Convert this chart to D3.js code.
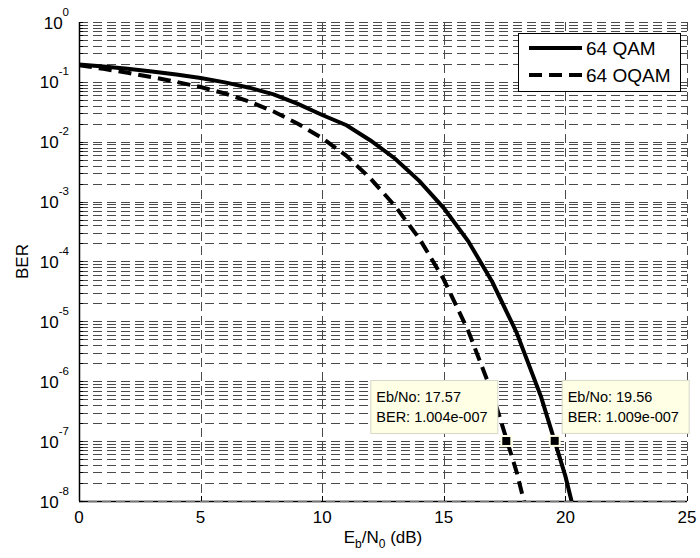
<!DOCTYPE html>
<html>
<head>
<meta charset="utf-8">
<script src="https://cdn.jsdelivr.net/npm/d3@7"></script>
<style>
  body { margin: 0; background: #fff; }
  svg text { font-family: Arial, "Liberation Sans", sans-serif; fill: #000; }
</style>
</head>
<body>
<svg id="chart" width="700" height="558"></svg>
<script>
  // Data
  var ebno = [0, 1, 2, 3, 4, 5, 6, 7, 8, 9, 10, 11, 12, 13, 14, 15, 16, 17, 18, 19, 20, 21]
  var berQam = [0.195, 0.180, 0.165, 0.149, 0.133, 0.116, 0.098, 0.080, 0.062, 0.043, 0.028, 0.0189,
    0.0104, 0.0052, 0.0022, 7.8e-4, 2.2e-4, 4.5e-5, 6.4e-6, 5.5e-7, 2.6e-8, 5.8e-10]
  var berOqam = [0.19, 0.165, 0.142, 0.12, 0.10, 0.082, 0.064, 0.047, 0.032, 0.020, 0.0115, 0.0058,
    0.0024, 8.4e-4, 2.4e-4, 5.0e-5, 7.0e-6, 6.2e-7, 3.0e-8, 7e-10]
  var seriesNames = ['64 QAM', '64 OQAM']
  var xTicks = [0, 5, 10, 15, 20, 25]
  var yExponents = [0, -1, -2, -3, -4, -5, -6, -7, -8]
  var tipX = [17.57, 19.56]
  var tipY = [1.004e-7, 1.009e-7]
  var tipLabels = [['Eb/No: 17.57', 'BER: 1.004e-007'], ['Eb/No: 19.56', 'BER: 1.009e-007']];

  (function () {
    var L = 79, R = 687, T = 22, B = 501
    var svg = d3.select('#chart')

    var x = d3.scaleLinear().domain([0, 25]).range([L, R])
    var y = d3.scaleLog().domain([1e-8, 1]).range([B, T])

    svg.append('defs').append('clipPath').attr('id', 'clip')
      .append('rect')
      .attr('x', L).attr('y', T)
      .attr('width', R - L).attr('height', B - T)

    // Grid
    var grid = svg.append('g').attr('class', 'grid')
    var minorVals = []
    for (var e = -8; e < 0; e++) {
      for (var m = 2; m <= 9; m++) minorVals.push(m * Math.pow(10, e))
    }
    var majorVals = yExponents.map(function (d) { return Math.pow(10, d) })
    var gridStyle = function (sel) {
      sel.attr('stroke', '#4a4a4a').attr('stroke-width', 1).attr('stroke-dasharray', '9,5')
    }
    grid.selectAll('line.h').data(minorVals.concat(majorVals)).enter().append('line')
      .attr('class', 'h')
      .attr('x1', L).attr('x2', R)
      .attr('y1', function (d) { return Math.round(y(d)) + 0.5 })
      .attr('y2', function (d) { return Math.round(y(d)) + 0.5 })
      .call(gridStyle)
    grid.selectAll('line.v').data(xTicks.slice(1)).enter().append('line')
      .attr('class', 'v')
      .attr('x1', function (d) { return Math.round(x(d)) + 0.5 })
      .attr('x2', function (d) { return Math.round(x(d)) + 0.5 })
      .attr('y1', T).attr('y2', B)
      .call(gridStyle)

    // Axis lines + inward ticks
    svg.append('line').attr('x1', L + 0.5).attr('x2', L + 0.5).attr('y1', T).attr('y2', B)
      .attr('stroke', '#000').attr('stroke-width', 1.5)
    svg.append('line').attr('x1', L).attr('x2', R).attr('y1', B + 0.5).attr('y2', B + 0.5)
      .attr('stroke', '#000').attr('stroke-width', 1.5)
    svg.append('line').attr('x1', L).attr('x2', R).attr('y1', B + 0.5).attr('y2', B + 0.5)
      .attr('stroke', '#777').attr('stroke-width', 1.5).attr('stroke-dasharray', '9,5').attr('stroke-dashoffset', -9)
    svg.selectAll('line.xt').data(xTicks).enter().append('line')
      .attr('class', 'xt')
      .attr('x1', function (d) { return Math.round(x(d)) + 0.5 })
      .attr('x2', function (d) { return Math.round(x(d)) + 0.5 })
      .attr('y1', B).attr('y2', B - 5)
      .attr('stroke', '#000')
    svg.selectAll('line.yt').data(minorVals.concat(majorVals)).enter().append('line')
      .attr('class', 'yt')
      .attr('x1', L).attr('x2', L + 4)
      .attr('y1', function (d) { return Math.round(y(d)) + 0.5 })
      .attr('y2', function (d) { return Math.round(y(d)) + 0.5 })
      .attr('stroke', '#000')

    // Tick labels
    svg.selectAll('text.xl').data(xTicks).enter().append('text')
      .attr('class', 'xl')
      .attr('x', function (d) { return x(d) })
      .attr('y', B + 22)
      .attr('text-anchor', 'middle')
      .style('font-size', '17px')
      .text(function (d) { return d })
    var yl = svg.selectAll('text.yl').data(yExponents).enter().append('text')
      .attr('class', 'yl')
      .attr('x', 69)
      .attr('y', function (d) { return y(Math.pow(10, d)) + 6.5 })
      .attr('text-anchor', 'end')
      .style('font-size', '17px')
    yl.append('tspan').text('10')
    yl.append('tspan').attr('dy', -13).style('font-size', '11.5px').text(function (d) { return d })

    // Axis titles
    var xt = svg.append('text').attr('x', (L + R) / 2).attr('y', 543)
      .attr('text-anchor', 'middle').style('font-size', '17px')
    xt.append('tspan').text('E')
    xt.append('tspan').attr('dy', 5).style('font-size', '12px').text('b')
    xt.append('tspan').attr('dy', -5).text('/N')
    xt.append('tspan').attr('dy', 5).style('font-size', '12px').text('0')
    xt.append('tspan').attr('dy', -5).text(' (dB)')
    svg.append('text').attr('transform', 'translate(28,' + (T + B) / 2 + ') rotate(-90)')
      .attr('text-anchor', 'middle').style('font-size', '17px').text('BER')

    // Curves
    var line = d3.line()
      .x(function (d) { return x(d[0]) })
      .y(function (d) { return y(d[1]) })
    var plot = svg.append('g').attr('clip-path', 'url(#clip)')
    plot.append('path')
      .datum(d3.zip(ebno, berQam))
      .attr('d', line)
      .attr('fill', 'none').attr('stroke', '#000').attr('stroke-width', 4)
    plot.append('path')
      .datum(d3.zip(ebno.slice(0, berOqam.length), berOqam))
      .attr('d', line)
      .attr('fill', 'none').attr('stroke', '#000').attr('stroke-width', 4)
      .attr('stroke-dasharray', '13,7')

    // Data tips
    var tipColor = '#ffffe6'
    var tips = svg.append('g')
    tipX.forEach(function (tx, i) {
      var px = x(tx), py = y(tipY[i])
      var bx = i === 0 ? px - 9 - 127 : px + 7
      var by = py - 8 - 53
      tips.append('rect').attr('x', bx + 0.5).attr('y', by + 0.5).attr('width', 127).attr('height', 53)
        .attr('fill', tipColor).attr('stroke', '#d8d8c8')
      tips.append('text').attr('x', bx + 6).attr('y', by + 22).style('font-size', '14.5px').text(tipLabels[i][0])
      tips.append('text').attr('x', bx + 6).attr('y', by + 42).style('font-size', '14.5px').text(tipLabels[i][1])
      tips.append('rect').attr('x', px - 5).attr('y', py - 5).attr('width', 10).attr('height', 10)
        .attr('fill', '#000').attr('stroke', tipColor).attr('stroke-width', 2)
    })

    // Legend
    var lg = svg.append('g')
    lg.append('rect').attr('x', 518.5).attr('y', 33.5).attr('width', 162).attr('height', 58)
      .attr('fill', '#fff').attr('stroke', '#000')
    seriesNames.forEach(function (name, i) {
      var ly = 48 + i * 27
      lg.append('line').attr('x1', 529).attr('x2', 582).attr('y1', ly).attr('y2', ly)
        .attr('stroke', '#000').attr('stroke-width', 4)
        .attr('stroke-dasharray', i === 1 ? '13,7' : null)
      lg.append('text').attr('x', 586).attr('y', ly + 7).style('font-size', '19px').text(name)
    })
  })()
</script>
</body>
</html>
